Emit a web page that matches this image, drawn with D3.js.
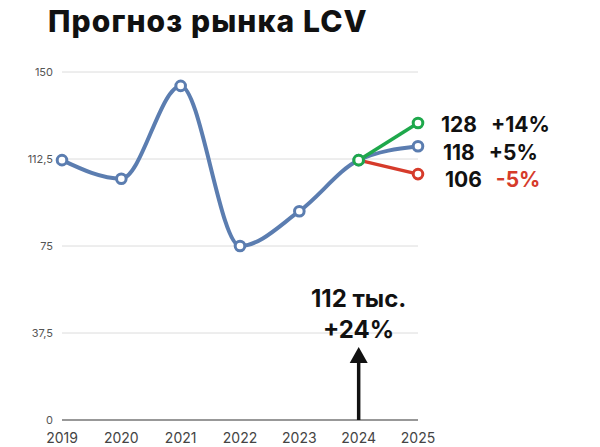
<!DOCTYPE html>
<html><head><meta charset="utf-8">
<script src="https://cdn.jsdelivr.net/npm/d3@7"></script>
<style>body{margin:0;background:#fff}svg{display:block}</style>
</head><body>
<svg id="c" width="600" height="447"></svg>
<script>
const years = [2019, 2020, 2021, 2022, 2023, 2024, 2025];
const market = [112, 104, 144, 75, 90, 112, 118];
const forecastYears = [2024, 2025];
const optimistic = [112, 128];
const pessimistic = [112, 106];
const yTicks = [0, 37.5, 75, 112.5, 150];
const forecastLabels = [
  {value: 128, num: "128", pct: "+14%", pctColor: "#111"},
  {value: 118, num: "118", pct: "+5%", pctColor: "#111"},
  {value: 106, num: "106", pct: "-5%", pctColor: "#d63b2b"}
];
const title = "Прогноз рынка LCV";
const note = ["112 тыс.", "+24%"];

const svg = d3.select("#c");
const x = d3.scaleLinear().domain([2019, 2025]).range([62, 418]);
const y = d3.scaleLinear().domain([0, 150]).range([420, 72]);
const font = "Inter, 'Open Sans', sans-serif";

svg.append("text").attr("x", 48).attr("y", 32).attr("font-family", font)
  .attr("font-weight", 800).attr("font-size", 30).attr("letter-spacing", 1.1)
  .attr("fill", "#111").text(title);

// grid
svg.append("g").selectAll("line").data(yTicks.filter(d => d > 0)).join("line")
  .attr("x1", 62).attr("x2", 418).attr("y1", d => y(d)).attr("y2", d => y(d))
  .attr("stroke", "#dcdcdc").attr("stroke-width", 1);
svg.append("line").attr("x1", 62).attr("x2", 418).attr("y1", y(0)).attr("y2", y(0))
  .attr("stroke", "#333").attr("stroke-width", 1.2);

const fmt = d => String(d).replace(".", ",");
svg.append("g").selectAll("text").data(yTicks).join("text")
  .attr("x", 53).attr("y", d => y(d) + 4).attr("text-anchor", "end")
  .attr("font-family", font).attr("font-size", 11).attr("fill", "#555").text(fmt);

svg.append("g").selectAll("text").data(years).join("text")
  .attr("x", d => x(d)).attr("y", 443).attr("text-anchor", "middle")
  .attr("font-family", font).attr("font-size", 14).attr("fill", "#444").text(d => d);

// lines
const line = d3.line().x(d => x(d[0])).y(d => y(d[1])).curve(d3.curveMonotoneX);
const straight = d3.line().x(d => x(d[0])).y(d => y(d[1]));
const blue = "#5b7db0", green = "#1ea84b", red = "#d63b2b";
const mk = (xs, vs) => xs.map((d, i) => [d, vs[i]]);
svg.append("path").attr("d", straight(mk(forecastYears, pessimistic)))
  .attr("fill", "none").attr("stroke", red).attr("stroke-width", 3.5);
svg.append("path").attr("d", line(mk(years, market)))
  .attr("fill", "none").attr("stroke", blue).attr("stroke-width", 4).attr("stroke-linecap", "round");
svg.append("path").attr("d", straight(mk(forecastYears, optimistic)))
  .attr("fill", "none").attr("stroke", green).attr("stroke-width", 3.5);

const dots = (pts, col) => svg.append("g").selectAll("circle").data(pts).join("circle")
  .attr("cx", d => x(d[0])).attr("cy", d => y(d[1])).attr("r", 4.8)
  .attr("fill", "#fff").attr("stroke", col).attr("stroke-width", 3);
dots(mk(years, market), blue);
dots([[2025, pessimistic[1]]], red);
dots([[2025, optimistic[1]]], green);
dots([[2024, optimistic[0]]], green);

// labels (spread evenly starting near the top value)
const lg = svg.append("g").selectAll("text").data(forecastLabels).join("text")
  .attr("x", (d, i) => 441 + i * 2).attr("y", (d, i) => y(forecastLabels[0].value) + 9 + i * 27.5)
  .attr("font-family", font).attr("font-weight", 700).attr("font-size", 21).attr("fill", "#111");
lg.append("tspan").text(d => d.num);
lg.append("tspan").attr("dx", 14).attr("fill", d => d.pctColor).text(d => d.pct);

// note
svg.append("g").selectAll("text").data(note).join("text")
  .attr("x", x(2024)).attr("y", (d, i) => 307 + i * 31).attr("text-anchor", "middle")
  .attr("font-family", font).attr("font-weight", 700).attr("font-size", 24).attr("fill", "#111").text(d => d);

// arrow
svg.append("line").attr("x1", x(2024)).attr("x2", x(2024)).attr("y1", y(0)).attr("y2", 360)
  .attr("stroke", "#111").attr("stroke-width", 3.5);
svg.append("path").attr("d", `M${x(2024) - 9},${363} L${x(2024)},${347} L${x(2024) + 9},${363} Z`).attr("fill", "#111");
</script>
</body></html>
